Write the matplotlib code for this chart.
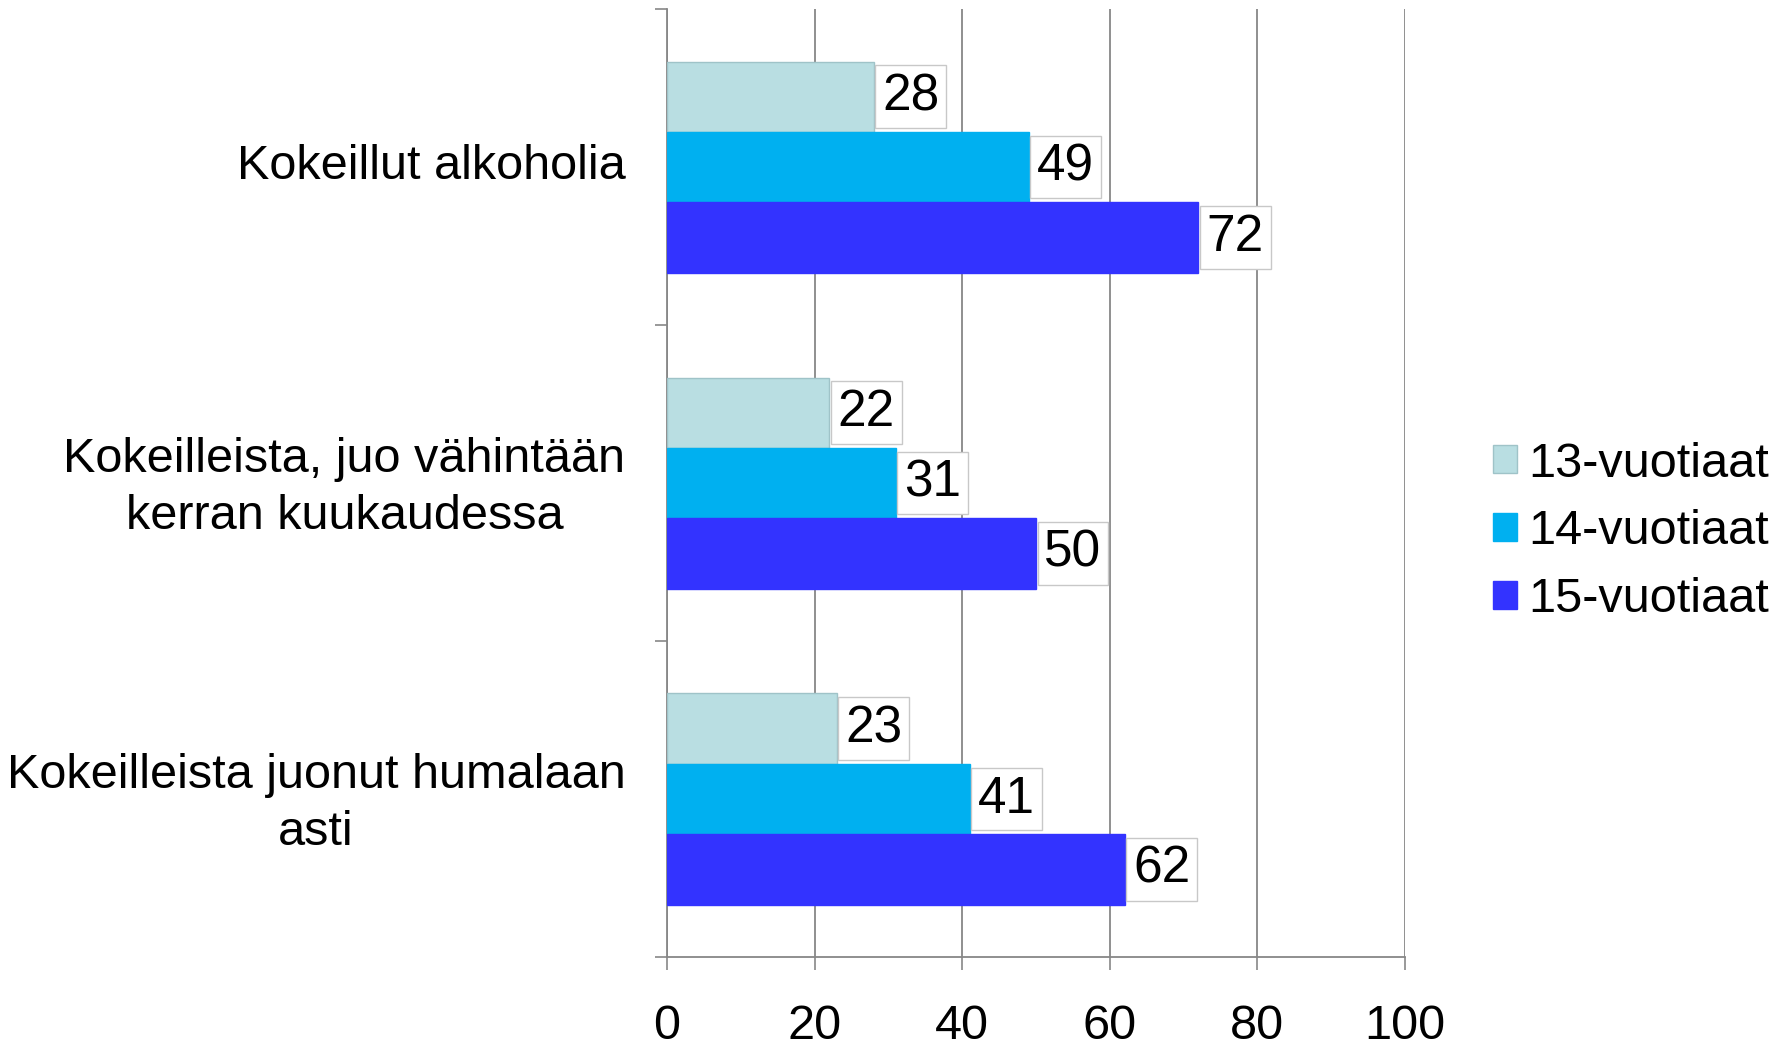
import numpy as np
import matplotlib
matplotlib.use("Agg")
import matplotlib.pyplot as plt
import matplotlib.transforms as mtransforms

plt.rcParams['font.family'] = ['Liberation Sans', 'DejaVu Sans']

# data
categories = ["Kokeillut alkoholia",
              "Kokeilleista, juo vähintään\nkerran kuukaudessa",
              "Kokeilleista juonut humalaan\nasti"]
series_names = ["13-vuotiaat", "14-vuotiaat", "15-vuotiaat"]
values_13 = [28, 22, 23]
values_14 = [49, 31, 41]
values_15 = [72, 50, 62]
colors = ["#B9DEE2", "#00B0F0", "#3333FF"]
xticks = [0, 20, 40, 60, 80, 100]

fs = 35
fig = plt.figure(figsize=(17.87, 10.49), dpi=100)
ax = fig.add_axes([0.3733, 0.0877, 0.4129, 0.9037])

y = np.arange(len(categories))
bar_h = 0.2226
all_vals = [values_13, values_14, values_15]
for i, vals in enumerate(all_vals):
    pos = y + (i - 1) * bar_h
    edge = "#9FC3C8" if i == 0 else colors[i]
    ax.barh(pos, vals, height=bar_h, color=colors[i], edgecolor=edge,
            linewidth=1, label=series_names[i], zorder=3)
    for p, v in zip(pos, vals):
        ax.annotate(str(v), xy=(v, p), xytext=(6, 0), textcoords="offset points",
                    ha="left", va="center", fontsize=37, zorder=4,
                    bbox=dict(boxstyle="square,pad=0.13", fc="white",
                              ec="#C8C8C8", lw=1))

ax.set_xlim(0, 100)
ax.set_ylim(len(categories) - 0.5, -0.5)
ax.set_xticks(xticks)
ax.set_xticklabels([str(t) for t in xticks], fontsize=fs)
ax.tick_params(axis="x", length=9, width=1.2, color="#878787", pad=25)
ax.grid(axis="x", color="#878787", lw=1.3, zorder=0)

# category boundaries as ticks, names at centers
ax.set_yticks(np.arange(-0.5, len(categories), 1.0))
ax.set_yticklabels([])
ax.tick_params(axis="y", which="major", length=9, width=1.2, color="#878787")
ax.set_yticks(y, minor=True)
ax.set_yticklabels(categories, minor=True, fontsize=fs, multialignment="center",
                   linespacing=1.33)
ax.tick_params(axis="y", which="minor", length=0, pad=30)
shift = mtransforms.ScaledTranslation(0, 4 / 72, fig.dpi_scale_trans)
for lbl in ax.get_yticklabels(minor=True):
    lbl.set_transform(lbl.get_transform() + shift)

for s in ["top", "right"]:
    ax.spines[s].set_visible(False)
for s in ["left", "bottom"]:
    ax.spines[s].set_color("#878787")
    ax.spines[s].set_linewidth(1.3)

fig.legend(loc="center left", bbox_to_anchor=(0.8355, 0.4929), frameon=False,
           fontsize=fs, handlelength=0.5, handleheight=0.5, handletextpad=0.23,
           labelspacing=0.47, borderaxespad=0, borderpad=0)

fig.savefig("out.png", dpi=100)
